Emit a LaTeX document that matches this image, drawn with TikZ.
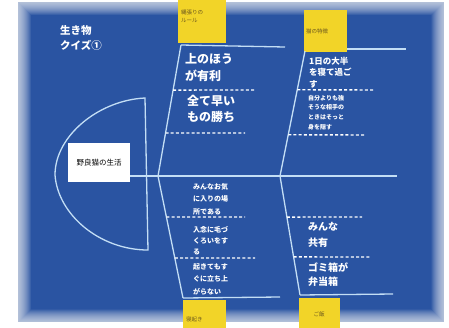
\documentclass[tikz,border=0pt]{standalone}
\usepackage{fontspec}
\usetikzlibrary{calc}
\newfontfamily\jp{Noto Sans CJK JP}
\definecolor{scr}{RGB}{42,84,162}
\definecolor{yel}{RGB}{242,212,40}
\definecolor{linec}{RGB}{195,222,245}
\definecolor{ytext}{RGB}{110,90,30}
\begin{document}
\begin{tikzpicture}[x=1pt,y=-1pt,
  bone/.style={draw=linec,line width=1.3pt},
  dashline/.style={draw=white,line width=1.4pt,dash pattern=on 3pt off 2.2pt},
  ybox/.style={fill=yel,draw=none},
  wt/.style={text=white,align=left,anchor=north west,inner sep=0pt},
  yt/.style={text=ytext,align=left,inner sep=0pt}]
\useasboundingbox (0,0) rectangle (449,327);
\fill[white] (0,0) rectangle (449,327);
% screen
\fill[scr] (18,2) rectangle (444,322);
\foreach \w in {1,2,...,26}{\draw[white,opacity=0.045,line width=\w pt] (18,2) rectangle (444,322);}
% head
\draw[bone] (145,98) .. controls (100,100) and (55,135) .. (55,175) .. controls (58,215) and (100,250) .. (148,250) -- cycle;
% title
\node[wt,font=\jp\bfseries\fontsize{10.5}{15}\selectfont] (title) at (60,25) {生き物\\クイズ①};
% yellow boxes
\fill[ybox] (178,-2) rectangle (226,43);
\fill[ybox] (304,10) rectangle (347,52);
\fill[ybox] (183,300) rectangle (226,330);
\fill[ybox] (299,298) rectangle (340,330);
\node[yt,font=\jp\fontsize{5.5}{8}\selectfont,anchor=north west] (l1) at (181,10) {縄張りの\\ルール};
\node[yt,font=\jp\fontsize{5.5}{8}\selectfont,anchor=west] (l2) at (306,31) {猫の特徴};
\node[yt,font=\jp\fontsize{5.5}{8}\selectfont,anchor=west] (l3) at (186,319) {寝起き};
\node[yt,font=\jp\fontsize{5.5}{8}\selectfont] (l4) at (319,314) {ご飯};
% junction coordinates
\coordinate (ta) at (181,45);
\coordinate (tb) at (305,51);
\coordinate (ja) at (158,176);
\coordinate (jb) at (280,176);
\coordinate (ba) at (183,298);
\coordinate (bb) at (300,295);
\coordinate (taE) at (285,47);
\coordinate (tbE) at (406,49);
\coordinate (baE) at (280,297);
\coordinate (bbE) at (393,294);
\coordinate (spE) at (397,176);
% center box
\node[fill=white,minimum width=62pt,minimum height=39pt,inner sep=0pt,font=\jp\fontsize{7.5}{9}\selectfont] (ctr) at (99,162.5) {野良猫の生活};
% spine and bones
\draw[bone] (ctr.east |- ja) -- (spE);
\draw[bone] (ta) -- (ja);
\draw[bone] (tb) -- (jb);
\draw[bone] (ja) -- (ba);
\draw[bone] (jb) -- (bb);
\draw[bone] (ta) -- (taE);
\draw[bone] (347,49) -- (tbE);
\draw[bone] (ba) -- (baE);
\draw[bone] (bb) -- (bbE);
% dashed lines
\coordinate (d1e) at (255,90);
\coordinate (d2e) at (245,133);
\coordinate (d3e) at (375,90);
\coordinate (d4e) at (365,135);
\coordinate (d5e) at (245,217);
\coordinate (d6e) at (255,258);
\coordinate (d7e) at (362,217);
\coordinate (d8e) at (370,257);
\draw[dashline] ($(ta)!0.344!(ja)$) -- (d1e);
\draw[dashline] ($(ta)!0.672!(ja)$) -- (d2e);
\draw[dashline] ($(tb)!0.31!(jb)$) -- (d3e);
\draw[dashline] ($(tb)!0.67!(jb)$) -- (d4e);
\draw[dashline] ($(ja)!0.336!(ba)$) -- (d5e);
\draw[dashline] ($(ja)!0.672!(ba)$) -- (d6e);
\draw[dashline] ($(jb)!0.345!(bb)$) -- (d7e);
\draw[dashline] ($(jb)!0.68!(bb)$) -- (d8e);
% texts
\node[wt,font=\jp\bfseries\fontsize{12}{17}\selectfont] (t1) at (185,53) {上のほう\\が有利};
\node[wt,font=\jp\bfseries\fontsize{12}{16}\selectfont] (t2) at (187,95) {全て早い\\もの勝ち};
\node[wt,font=\jp\bfseries\fontsize{8.5}{11.5}\selectfont] (t3) at (309,57) {1日の大半\\を寝て過ご\\す};
\node[wt,font=\jp\bfseries\fontsize{6}{9.6}\selectfont] (t4) at (308,95) {自分よりも強\\そうな相手の\\ときはそっと\\身を隠す};
\node[wt,font=\jp\bfseries\fontsize{7}{12.5}\selectfont] (t5) at (193,183) {みんなお気\\に入りの場\\所である};
\node[wt,font=\jp\bfseries\fontsize{7}{11}\selectfont] (t6) at (193,226) {入念に毛づ\\くろいをす\\る};
\node[wt,font=\jp\bfseries\fontsize{7}{12.5}\selectfont] (t7) at (193,263) {起きてもす\\ぐに立ち上\\がらない};
\node[wt,font=\jp\bfseries\fontsize{10}{16}\selectfont] (t8) at (308,222) {みんな\\共有};
\node[wt,font=\jp\bfseries\fontsize{10}{14}\selectfont] (t9) at (308,263) {ゴミ箱が\\弁当箱};
\end{tikzpicture}
\end{document}
